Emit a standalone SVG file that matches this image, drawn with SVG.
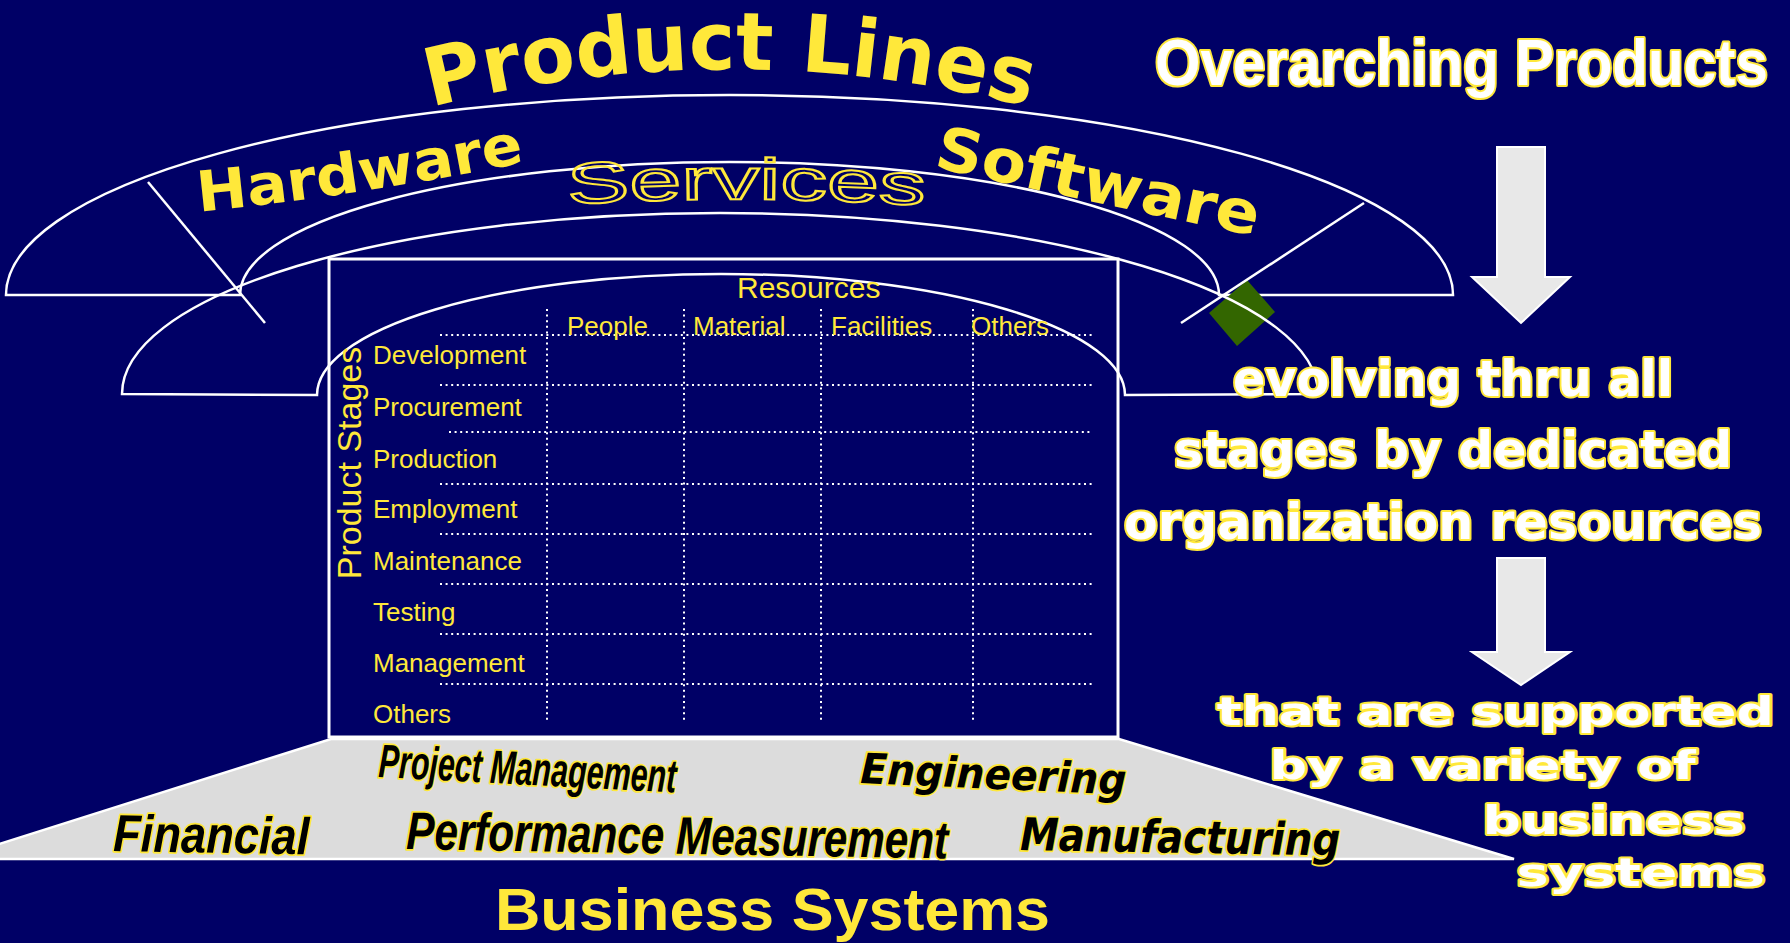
<svg xmlns="http://www.w3.org/2000/svg" width="1790" height="943" viewBox="0 0 1790 943">
<style>
.bg{fill:#000066}
.ln{fill:none;stroke:#fff;stroke-width:2.5}
.dot{fill:none;stroke:#fff;stroke-width:2;stroke-dasharray:2 3.6}
.ywb{font-family:"DejaVu Sans",sans-serif;font-weight:bold;fill:#FFE83A}
.tbl{font-family:"Liberation Sans",Arial,sans-serif;fill:#FFE83A}
.wy{font-family:"DejaVu Sans",sans-serif;font-weight:bold;fill:#fff;stroke:#FFE83A;stroke-width:4;paint-order:stroke;stroke-linejoin:round}
.wyn{font-family:"Liberation Sans",Arial,sans-serif;font-weight:bold;fill:#fff;stroke:#FFE83A;stroke-width:4;paint-order:stroke;stroke-linejoin:round}
.bl{font-family:"Liberation Sans",Arial,sans-serif;font-weight:bold;font-style:italic;fill:#000;stroke:#FFE83A;stroke-width:3.5;paint-order:stroke;stroke-linejoin:round}
.bld{font-family:"DejaVu Sans",sans-serif;font-weight:bold;font-style:italic;fill:#000;stroke:#FFE83A;stroke-width:3.5;paint-order:stroke;stroke-linejoin:round}
.arrow{fill:#E8E8E8;stroke:#fff;stroke-width:2}
</style>
<defs>
<path id="plArc" d="M420,110 A1200,1200 0 0 1 1040,110"/>
<path id="hwArc" d="M195,212 Q360,196 535,160"/>
<path id="swArc" d="M930,166 Q1080,200 1265,238"/>
<path id="svArc" d="M560,205 Q745,193 930,206"/>
</defs>
<rect class="bg" x="0" y="0" width="1790" height="943"/>

<g id="product-lines-band">
<path class="ln" d="M6,295 A723.5,200 0 0 1 1453,295 L1219,295 A489.5,133 0 0 0 240,295 Z"/>
<text class="ywb" font-size="80"><textPath href="#plArc" startOffset="50%" text-anchor="middle" textLength="604" lengthAdjust="spacingAndGlyphs">Product Lines</textPath></text>
<text class="ywb" font-size="56"><textPath href="#hwArc" startOffset="4" textLength="330" lengthAdjust="spacingAndGlyphs">Hardware</textPath></text>
<text class="ywb" font-size="60"><textPath href="#swArc" startOffset="3" textLength="330" lengthAdjust="spacingAndGlyphs">Software</textPath></text>
<text font-family="Liberation Sans, Arial, sans-serif" font-size="58" fill="none" stroke="#FFE83A" stroke-width="2"><textPath href="#svArc" startOffset="8" textLength="357" lengthAdjust="spacingAndGlyphs">Services</textPath></text>
</g>

<g id="marker-diamond">
<polygon points="1247,280 1275,312 1237,346 1209,313" fill="#336600"/>
</g>

<g id="stages-band">
<path class="ln" d="M122,394 A598,181 0 0 1 1318,394 L1125,395 A404,121 0 0 0 317,395 Z"/>
</g>

<g id="connectors">
<line class="ln" x1="148" y1="182" x2="265" y2="323"/>
<line class="ln" x1="1364" y1="203" x2="1181" y2="323" stroke-width="3"/>
<polygon class="arrow" points="1497,147 1545,147 1545,277 1570,277 1521,323 1472,277 1497,277"/>
<polygon class="arrow" points="1497,558 1545,558 1545,652 1570,652 1521,685 1472,652 1497,652"/>
</g>

<g id="table">
<rect x="329" y="259" width="789" height="478" fill="none" stroke="#fff" stroke-width="3"/>
<g>
<line class="dot" x1="440" y1="335" x2="1094" y2="335"/>
<line class="dot" x1="440" y1="385" x2="1094" y2="385"/>
<line class="dot" x1="449" y1="432" x2="1090" y2="432"/>
<line class="dot" x1="440" y1="484" x2="1094" y2="484"/>
<line class="dot" x1="440" y1="534" x2="1094" y2="534"/>
<line class="dot" x1="440" y1="584" x2="1094" y2="584"/>
<line class="dot" x1="440" y1="634" x2="1094" y2="634"/>
<line class="dot" x1="440" y1="684" x2="1094" y2="684"/>
<line class="dot" x1="547" y1="309" x2="547" y2="722"/>
<line class="dot" x1="684" y1="309" x2="684" y2="722"/>
<line class="dot" x1="821" y1="309" x2="821" y2="722"/>
<line class="dot" x1="973" y1="309" x2="973" y2="722"/>
</g>
<text class="tbl" x="737" y="298" font-size="30">Resources</text>
<text class="tbl" font-size="26" y="335"><tspan x="567">People</tspan><tspan x="693">Material</tspan><tspan x="831">Facilities</tspan><tspan x="971">Others</tspan></text>
<text class="tbl" font-size="26" x="373">
<tspan x="373" y="364">Development</tspan>
<tspan x="373" y="416">Procurement</tspan>
<tspan x="373" y="468">Production</tspan>
<tspan x="373" y="518">Employment</tspan>
<tspan x="373" y="570">Maintenance</tspan>
<tspan x="373" y="621">Testing</tspan>
<tspan x="373" y="672">Management</tspan>
<tspan x="373" y="723">Others</tspan>
</text>
<text class="tbl" font-size="34" text-anchor="middle" transform="translate(361,463) rotate(-90)">Product Stages</text>
</g>

<g id="business-systems">
<polygon points="331,739 1119,739 1514,859 -48,859" fill="#DCDCDC" stroke="#fff" stroke-width="2.5"/>
<text class="bl" x="378" y="777" font-size="47" textLength="298" lengthAdjust="spacingAndGlyphs" transform="rotate(3 378 777)">Project Management</text>
<text class="bld" x="860" y="783" font-size="42" textLength="266" lengthAdjust="spacingAndGlyphs" transform="rotate(2.5 860 783)">Engineering</text>
<text class="bl" x="113" y="851" font-size="52" textLength="196" lengthAdjust="spacingAndGlyphs" transform="rotate(1 113 851)">Financial</text>
<text class="bl" x="406" y="849" font-size="53" textLength="542" lengthAdjust="spacingAndGlyphs" transform="rotate(1 406 849)">Performance Measurement</text>
<text class="bld" x="1020" y="850" font-size="45" textLength="320" lengthAdjust="spacingAndGlyphs" transform="rotate(1 1020 850)">Manufacturing</text>
<text x="495" y="930" font-family="Liberation Sans, Arial, sans-serif" font-weight="bold" font-size="60" fill="#FFE83A" textLength="555" lengthAdjust="spacingAndGlyphs">Business Systems</text>
</g>

<g id="right-texts">
<text class="wyn" x="1155" y="85" font-size="64" textLength="613" lengthAdjust="spacingAndGlyphs">Overarching Products</text>
<text class="wy" x="1233" y="396" font-size="49" textLength="440" lengthAdjust="spacingAndGlyphs">evolving thru all</text>
<text class="wy" x="1174" y="467" font-size="49" textLength="558" lengthAdjust="spacingAndGlyphs">stages by dedicated</text>
<text class="wy" x="1124" y="539" font-size="49" textLength="638" lengthAdjust="spacingAndGlyphs">organization resources</text>
<text class="wy" x="1217" y="725" font-size="39" textLength="557" lengthAdjust="spacingAndGlyphs">that are supported</text>
<text class="wy" x="1270" y="779" font-size="39" textLength="426" lengthAdjust="spacingAndGlyphs">by a variety of</text>
<text class="wy" x="1483" y="834" font-size="39" textLength="262" lengthAdjust="spacingAndGlyphs">business</text>
<text class="wy" x="1517" y="886" font-size="39" textLength="248" lengthAdjust="spacingAndGlyphs">systems</text>
</g>
</svg>
